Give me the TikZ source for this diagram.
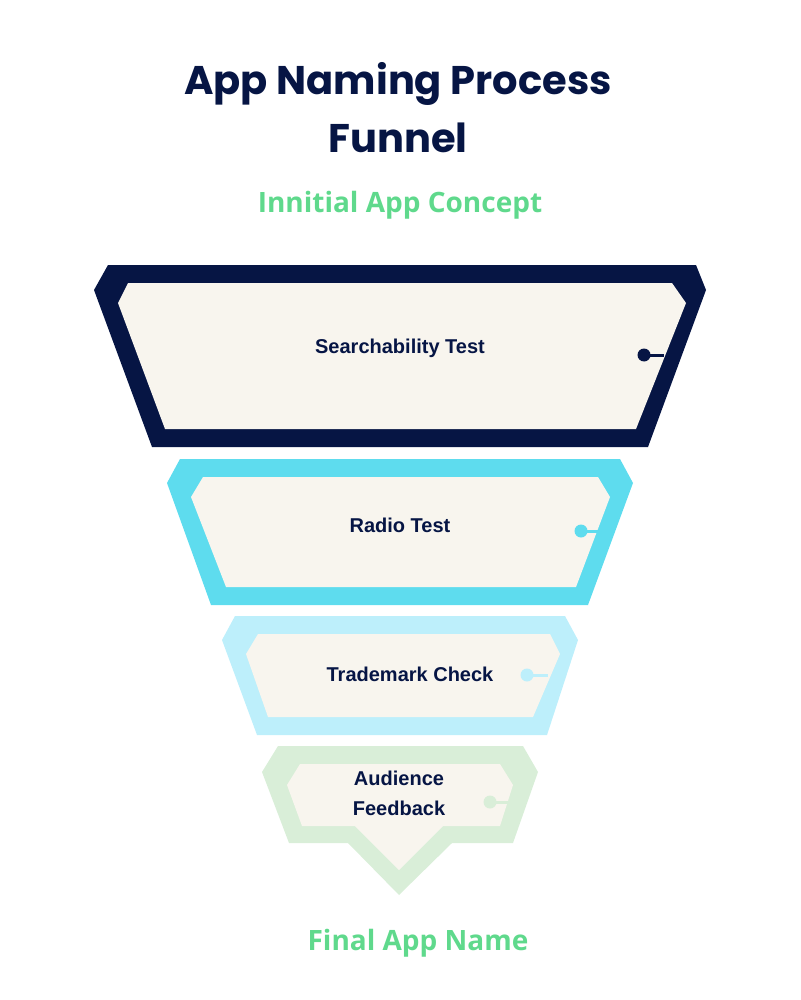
\documentclass[tikz,border=0pt]{standalone}
\usepackage{fontspec}
\setmainfont{Liberation Sans}
\newfontfamily\titlefont{Poppins}
\newfontfamily\subfont{Open Sans}
\definecolor{navy}{HTML}{061544}
\definecolor{cyanb}{HTML}{5EDCEE}
\definecolor{lblue}{HTML}{BDEFFB}
\definecolor{lgreen}{HTML}{D9EED8}
\definecolor{cream}{HTML}{F8F5EE}
\definecolor{green}{HTML}{5FD98C}
\tikzset{inner/.style={fill=cream}, lbl/.style={text=navy,font=\bfseries\fontsize{20}{30}\selectfont,align=center},
dotline/.style={line width=3pt}}
\begin{document}
\begin{tikzpicture}[x=1pt,y=-1pt]
\useasboundingbox (0,0) rectangle (800,1000);
\node[text=navy,font=\titlefont\bfseries\fontsize{40}{58}\selectfont,align=center] (title) at (398,108) {App Naming Process\\Funnel};
\node[text=green,font=\subfont\bfseries\fontsize{28}{34}\selectfont] (top) at (400,205) {Innitial App Concept};
\node[text=green,font=\subfont\bfseries\fontsize{28}{34}\selectfont] (bot) at (418,943) {Final App Name};
% stage 1
\fill[navy] (108,265)--(696,265)--(706,290)--(648,447)--(152,447)--(94,290)--cycle;
\fill[inner] (128,283)--(672,283)--(686,303)--(636,429)--(165,429)--(118,303)--cycle;
\draw[navy,dotline] (644,355)--(664,355); \fill[navy] (644,355) circle (6.5);
\node[lbl] (s1) at (400,348) {Searchability Test};
% stage 2
\fill[cyanb] (180,459)--(620,459)--(633,483)--(588,605)--(211,605)--(167,483)--cycle;
\fill[inner] (203,477)--(598,477)--(610,497)--(576,587)--(226,587)--(191,497)--cycle;
\draw[cyanb,dotline] (581,531)--(600,531); \fill[cyanb] (581,531) circle (6.5);
\node[lbl] (s2) at (400,525) {Radio Test};
% stage 3
\fill[lblue] (235,616)--(565,616)--(578,640)--(547,735)--(257,735)--(222,640)--cycle;
\fill[inner] (258,634)--(550,634)--(560,654)--(533,717)--(268,717)--(246,654)--cycle;
\draw[lblue,dotline] (527,675)--(548,675); \fill[lblue] (527,675) circle (6.5);
\node[lbl] (s3) at (410,674) {Trademark Check};
% stage 4
\fill[lgreen] (278,746)--(523,746)--(538,772)--(513,843)--(452,843)--(399,895)--(348,843)--(289,843)--(262,772)--cycle;
\fill[inner] (300,764)--(500,764)--(513,785)--(500,826)--(443,826)--(399,870)--(355,826)--(302,826)--(287,785)--cycle;
\draw[lgreen,dotline] (490,802)--(512,802); \fill[lgreen] (490,802) circle (6.5);
\node[lbl] (s4) at (399,793) {Audience\\Feedback};
\end{tikzpicture}
\end{document}
